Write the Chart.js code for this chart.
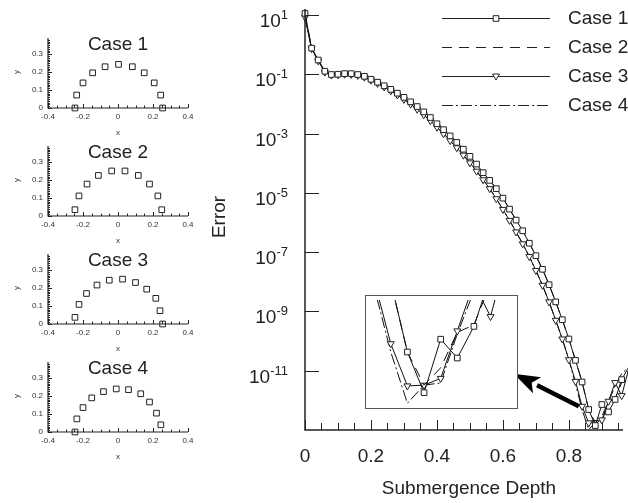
<!DOCTYPE html>
<html>
<head>
<meta charset="utf-8">
<script src="https://cdn.jsdelivr.net/npm/chart.js@4.4.1/dist/chart.umd.min.js"></script>
<style>
    html, body { margin: 0; padding: 0; background: #fff; }
    #wrap { position: relative; width: 628px; height: 503px; overflow: hidden; }
    canvas { position: absolute; }
</style>
</head>
<body>
<div id="wrap">
    <canvas id="mainChart" width="628" height="503" style="left:0;top:0"></canvas>
    <canvas id="shape1" width="200" height="135" style="left:0;top:0"></canvas>
    <canvas id="shape2" width="200" height="135" style="left:0;top:108px"></canvas>
    <canvas id="shape3" width="200" height="135" style="left:0;top:216px"></canvas>
    <canvas id="shape4" width="200" height="135" style="left:0;top:324px"></canvas>
    <canvas id="insetChart" width="153" height="114" style="left:365px;top:295px"></canvas>
</div>
<script>
// ================= DADOS =================
const caseNames = ['Case 1', 'Case 2', 'Case 3', 'Case 4'];

const depth = [
    0.00, 0.02, 0.04, 0.06, 0.08, 0.10, 0.12, 0.14, 0.16, 0.18,
    0.20, 0.22, 0.24, 0.26, 0.28, 0.30, 0.32, 0.34, 0.36, 0.38,
    0.40, 0.42, 0.44, 0.46, 0.48, 0.50, 0.52, 0.54, 0.56, 0.58,
    0.60, 0.62, 0.64, 0.66, 0.68, 0.70, 0.72, 0.74, 0.76, 0.78,
    0.80, 0.82, 0.84, 0.86, 0.88, 0.90, 0.92, 0.94, 0.96, 0.98
];

// error = 10^exponent
const case1Exp = [
    1.05, -0.12, -0.52, -0.90, -1.01, -1.00, -0.98, -0.98, -1.01, -1.07,
    -1.17, -1.27, -1.39, -1.51, -1.64, -1.78, -1.93, -2.09, -2.27, -2.46,
    -2.67, -2.87, -3.08, -3.30, -3.53, -3.77, -4.03, -4.32, -4.58, -4.86,
    -5.18, -5.55, -5.92, -6.28, -6.70, -7.12, -7.58, -8.10, -8.68, -9.28,
    -9.93, -10.65, -11.38, -12.31, -12.85, -12.14, -12.39, -11.97, -11.30, -10.90
];
const case2Exp = [
    1.05, -0.12, -0.52, -0.90, -1.01, -1.00, -0.98, -0.98, -1.01, -1.07,
    -1.17, -1.27, -1.39, -1.51, -1.64, -1.78, -1.93, -2.09, -2.27, -2.46,
    -2.67, -2.87, -3.08, -3.30, -3.53, -3.77, -4.03, -4.32, -4.58, -4.86,
    -5.18, -5.55, -5.92, -6.28, -6.70, -7.12, -7.58, -8.10, -8.68, -9.28,
    -9.93, -10.65, -11.38, -12.31, -12.75, -12.52, -12.05, -11.95, -11.40, -11.00
];
const case3Exp = [
    0.92, -0.14, -0.55, -0.93, -1.03, -1.02, -1.00, -1.01, -1.04, -1.10,
    -1.20, -1.31, -1.43, -1.56, -1.70, -1.85, -2.01, -2.18, -2.37, -2.57,
    -2.79, -3.01, -3.24, -3.48, -3.73, -3.99, -4.27, -4.56, -4.86, -5.20,
    -5.56, -5.93, -6.32, -6.72, -7.15, -7.62, -8.12, -8.68, -9.30, -9.93,
    -10.63, -11.36, -12.20, -12.76, -12.75, -12.66, -12.03, -11.40, -11.84, -11.00
];
const case4Exp = [
    0.92, -0.14, -0.55, -0.93, -1.03, -1.02, -1.00, -1.01, -1.04, -1.10,
    -1.20, -1.31, -1.43, -1.56, -1.70, -1.85, -2.01, -2.18, -2.37, -2.57,
    -2.79, -3.01, -3.24, -3.48, -3.73, -3.99, -4.27, -4.56, -4.86, -5.20,
    -5.56, -5.93, -6.32, -6.72, -7.15, -7.62, -8.12, -8.68, -9.30, -9.93,
    -10.63, -11.45, -12.31, -12.99, -12.75, -12.72, -12.07, -11.50, -11.10, -10.90
];

const xTickValues = [0, 0.2, 0.4, 0.6, 0.8];
const xTickLabels = ['0', '0.2', '0.4', '0.6', '0.8'];
const yTickExps = [1, -1, -3, -5, -7, -9, -11];

// pontos das formas (painéis da esquerda)
const shape1X = [-0.246, -0.236, -0.2, -0.145, -0.074, 0.003, 0.082, 0.15, 0.207, 0.244, 0.255];
const shape1Y = [0, 0.072, 0.14, 0.196, 0.23, 0.243, 0.23, 0.196, 0.14, 0.072, 0];
const shape2X = [-0.246, -0.223, -0.177, -0.112, -0.036, 0.04, 0.116, 0.18, 0.228, 0.25];
const shape2Y = [0.035, 0.112, 0.178, 0.226, 0.251, 0.251, 0.226, 0.178, 0.112, 0.035];
const shape3X = [-0.246, -0.223, -0.18, -0.12, -0.05, 0.026, 0.1, 0.164, 0.216, 0.24, 0.255];
const shape3Y = [0.037, 0.109, 0.17, 0.217, 0.244, 0.25, 0.231, 0.194, 0.143, 0.074, 0];
const shape4X = [-0.246, -0.235, -0.2, -0.15, -0.083, -0.01, 0.06, 0.13, 0.18, 0.22, 0.245];
const shape4Y = [0, 0.073, 0.136, 0.19, 0.225, 0.24, 0.236, 0.213, 0.167, 0.105, 0.04];
const shapeXLabels = [-0.4, -0.2, 0, 0.2, 0.4];
const shapeYLabels = [0, 0.1, 0.2, 0.3];

// ================= ESTILO =================
const FONT = '"Liberation Sans", Arial, Helvetica, sans-serif';
const INK = '#222';

function toPoints(exps) {
    return depth.map((d, i) => ({ x: d, y: Math.pow(10, exps[i]) }));
}

function errorDatasets() {
    return [
        { label: caseNames[0], data: toPoints(case1Exp), borderColor: '#111', borderWidth: 1,
          pointStyle: 'rect', pointRadius: 4, pointBorderColor: INK, pointBackgroundColor: '#fff', pointBorderWidth: 1 },
        { label: caseNames[1], data: toPoints(case2Exp), borderColor: '#111', borderWidth: 1,
          borderDash: [10, 7], pointRadius: 0 },
        { label: caseNames[2], data: toPoints(case3Exp), borderColor: '#111', borderWidth: 1,
          pointStyle: 'triangle', pointRotation: 180, pointRadius: 4, pointBorderColor: INK, pointBackgroundColor: '#fff', pointBorderWidth: 1 },
        { label: caseNames[3], data: toPoints(case4Exp), borderColor: '#111', borderWidth: 1,
          borderDash: [11, 3, 2, 3], pointRadius: 0 },
    ];
}

function drawMarker(ctx, style, x, y) {
    ctx.beginPath();
    if (style === 'rect') {
        ctx.rect(x - 2.8, y - 2.8, 5.6, 5.6);
    } else {
        ctx.moveTo(x - 3.5, y - 2.5);
        ctx.lineTo(x + 3.5, y - 2.5);
        ctx.lineTo(x, y + 3.5);
        ctx.closePath();
    }
    ctx.fillStyle = '#fff';
    ctx.fill();
    ctx.strokeStyle = INK;
    ctx.lineWidth = 1;
    ctx.stroke();
}

// ================= GRÁFICO PRINCIPAL =================
const mainDecor = {
    id: 'mainDecor',
    afterDraw(chart) {
        const { ctx, chartArea: a, scales: { x, y } } = chart;
        ctx.save();

        // eixos
        ctx.strokeStyle = INK;
        ctx.lineWidth = 1.5;
        ctx.beginPath();
        ctx.moveTo(a.left, a.top);
        ctx.lineTo(a.left, a.bottom);
        ctx.lineTo(a.right, a.bottom);
        ctx.stroke();

        // ticks x (para dentro)
        ctx.lineWidth = 1;
        for (let v = 0; v <= x.max + 1e-9; v += 0.05) {
            const px = Math.round(x.getPixelForValue(v)) + 0.5;
            const major = Math.abs(v / 0.2 - Math.round(v / 0.2)) < 1e-6;
            ctx.beginPath();
            ctx.moveTo(px, a.bottom);
            ctx.lineTo(px, a.bottom - (major ? 10 : 7));
            ctx.stroke();
        }
        ctx.fillStyle = INK;
        ctx.font = '19px ' + FONT;
        ctx.textAlign = 'center';
        ctx.textBaseline = 'middle';
        xTickValues.forEach((v, i) => ctx.fillText(xTickLabels[i], x.getPixelForValue(v), 457));

        // ticks y + rótulos 10^n
        yTickExps.forEach(e => {
            const py = Math.round(y.getPixelForValue(Math.pow(10, e))) + 0.5;
            ctx.beginPath();
            ctx.moveTo(a.left, py);
            ctx.lineTo(a.left + 14, py);
            ctx.stroke();

            const sup = String(e);
            ctx.font = '13px ' + FONT;
            const wSup = ctx.measureText(sup).width;
            ctx.font = '19px ' + FONT;
            const wBase = ctx.measureText('10').width;
            const right = a.left - 17;
            ctx.textAlign = 'left';
            ctx.textBaseline = 'alphabetic';
            ctx.fillText('10', right - wSup - wBase, py + 11);
            ctx.font = '13px ' + FONT;
            ctx.fillText(sup, right - wSup, py + 3);
        });

        // títulos
        ctx.font = '19px ' + FONT;
        ctx.textAlign = 'center';
        ctx.textBaseline = 'middle';
        ctx.fillText('Submergence Depth', 469, 489);
        ctx.save();
        ctx.translate(220, 217);
        ctx.rotate(-Math.PI / 2);
        ctx.fillText('Error', 0, 0);
        ctx.restore();

        // legenda
        const rows = [18, 47, 76, 105];
        chart.data.datasets.forEach((ds, i) => {
            const ly = rows[i] + 0.5;
            ctx.strokeStyle = INK;
            ctx.lineWidth = 1;
            ctx.setLineDash(ds.borderDash || []);
            ctx.beginPath();
            ctx.moveTo(442, ly);
            ctx.lineTo(550, ly);
            ctx.stroke();
            ctx.setLineDash([]);
            if (ds.pointRadius) drawMarker(ctx, ds.pointStyle, 496, ly);
            ctx.fillStyle = INK;
            ctx.font = '19px ' + FONT;
            ctx.textAlign = 'left';
            ctx.textBaseline = 'middle';
            ctx.fillText(ds.label, 568, rows[i] + 1);
        });

        // seta para o detalhe
        const tx = x.getPixelForValue(0.633), ty = y.getPixelForValue(Math.pow(10, -11.1));
        const sx = x.getPixelForValue(0.83), sy = y.getPixelForValue(Math.pow(10, -12.2));
        const ang = Math.atan2(ty - sy, tx - sx);
        const hx = tx - 26 * Math.cos(ang), hy = ty - 26 * Math.sin(ang);
        ctx.strokeStyle = '#000';
        ctx.lineWidth = 4.5;
        ctx.beginPath();
        ctx.moveTo(sx, sy);
        ctx.lineTo(hx, hy);
        ctx.stroke();
        ctx.fillStyle = '#000';
        ctx.beginPath();
        ctx.moveTo(tx, ty);
        ctx.lineTo(hx + 9 * Math.sin(ang), hy - 9 * Math.cos(ang));
        ctx.lineTo(tx - 20 * Math.cos(ang), ty - 20 * Math.sin(ang));
        ctx.lineTo(hx - 9 * Math.sin(ang), hy + 9 * Math.cos(ang));
        ctx.closePath();
        ctx.fill();

        ctx.restore();
    }
};

new Chart(document.getElementById('mainChart'), {
    type: 'line',
    data: { datasets: errorDatasets() },
    options: {
        responsive: false,
        animation: false,
        events: [],
        layout: { padding: { left: 305, top: 9, right: 0, bottom: 73 } },
        elements: { line: { tension: 0 } },
        datasets: { line: { clip: false } },
        plugins: { legend: { display: false }, tooltip: { enabled: false } },
        scales: {
            x: { type: 'linear', min: 0, max: 0.964, display: false },
            y: { type: 'logarithmic', min: 1e-13, max: Math.pow(10, 1.2), display: false }
        }
    },
    plugins: [mainDecor]
});

// ================= DETALHE (INSET) =================
const insetFrame = {
    id: 'insetFrame',
    beforeDraw(chart) {
        const { ctx, width, height } = chart;
        ctx.save();
        ctx.fillStyle = '#fff';
        ctx.fillRect(0, 0, width, height);
        ctx.restore();
    },
    afterDraw(chart) {
        const { ctx, width, height } = chart;
        ctx.save();
        ctx.strokeStyle = '#555';
        ctx.lineWidth = 1;
        ctx.strokeRect(0.5, 0.5, width - 1, height - 1);
        ctx.restore();
    }
};

new Chart(document.getElementById('insetChart'), {
    type: 'line',
    data: { datasets: errorDatasets() },
    options: {
        responsive: false,
        animation: false,
        events: [],
        layout: { padding: 0 },
        elements: { line: { tension: 0 } },
        plugins: { legend: { display: false }, tooltip: { enabled: false } },
        scales: {
            x: { type: 'linear', min: 0.815, max: 0.987, display: false },
            y: { type: 'logarithmic', min: 1e-13, max: Math.pow(10, -11.62), display: false }
        }
    },
    plugins: [insetFrame]
});

// ================= PAINÉIS DAS FORMAS =================
const shapeDecor = {
    id: 'shapeDecor',
    afterDraw(chart, args, opts) {
        const { ctx, chartArea: a, scales: { x, y } } = chart;
        ctx.save();
        ctx.strokeStyle = INK;
        ctx.lineWidth = 1.2;
        ctx.beginPath();
        ctx.moveTo(a.left, a.top);
        ctx.lineTo(a.left, a.bottom);
        ctx.lineTo(a.right, a.bottom);
        ctx.stroke();

        ctx.lineWidth = 1;
        for (let k = -8; k <= 8; k++) {
            const px = Math.round(x.getPixelForValue(k * 0.05)) + 0.5;
            ctx.beginPath();
            ctx.moveTo(px, a.bottom);
            ctx.lineTo(px, a.bottom - (k % 4 === 0 ? 4 : 2.5));
            ctx.stroke();
        }
        for (let k = 0; k <= 38; k++) {
            const py = Math.round(y.getPixelForValue(k * 0.01)) + 0.5;
            ctx.beginPath();
            ctx.moveTo(a.left, py);
            ctx.lineTo(a.left + (k % 10 === 0 ? 4 : 2), py);
            ctx.stroke();
        }

        ctx.fillStyle = '#333';
        ctx.font = '8px ' + FONT;
        ctx.textAlign = 'center';
        ctx.textBaseline = 'middle';
        shapeXLabels.forEach(v => ctx.fillText(String(v), x.getPixelForValue(v), a.bottom + 9));
        ctx.textAlign = 'right';
        shapeYLabels.forEach(v => ctx.fillText(String(v), a.left - 5, y.getPixelForValue(v)));
        ctx.textAlign = 'center';
        ctx.fillText('x', x.getPixelForValue(0), a.bottom + 25);
        ctx.save();
        ctx.translate(17, y.getPixelForValue(0.2));
        ctx.rotate(-Math.PI / 2);
        ctx.fillText('y', 0, 0);
        ctx.restore();

        ctx.fillStyle = INK;
        ctx.font = '19px ' + FONT;
        ctx.fillText(opts.title, x.getPixelForValue(0), a.top + 7);
        ctx.restore();
    }
};

const shapes = [
    ['shape1', shape1X, shape1Y],
    ['shape2', shape2X, shape2Y],
    ['shape3', shape3X, shape3Y],
    ['shape4', shape4X, shape4Y],
];

shapes.forEach(([id, xs, ys], i) => {
    new Chart(document.getElementById(id), {
        type: 'scatter',
        data: {
            datasets: [{
                data: xs.map((v, j) => ({ x: v, y: ys[j] })),
                pointStyle: 'rect',
                pointRadius: 4,
                borderColor: INK,
                backgroundColor: '#fff',
                borderWidth: 1,
                clip: false
            }]
        },
        options: {
            responsive: false,
            animation: false,
            events: [],
            layout: { padding: { left: 48, right: 12, top: 38, bottom: 27 } },
            plugins: { legend: { display: false }, tooltip: { enabled: false }, shapeDecor: { title: caseNames[i] } },
            scales: {
                x: { type: 'linear', min: -0.4, max: 0.4, display: false },
                y: { type: 'linear', min: 0, max: 0.39, display: false }
            }
        },
        plugins: [shapeDecor]
    });
});
</script>
</body>
</html>
